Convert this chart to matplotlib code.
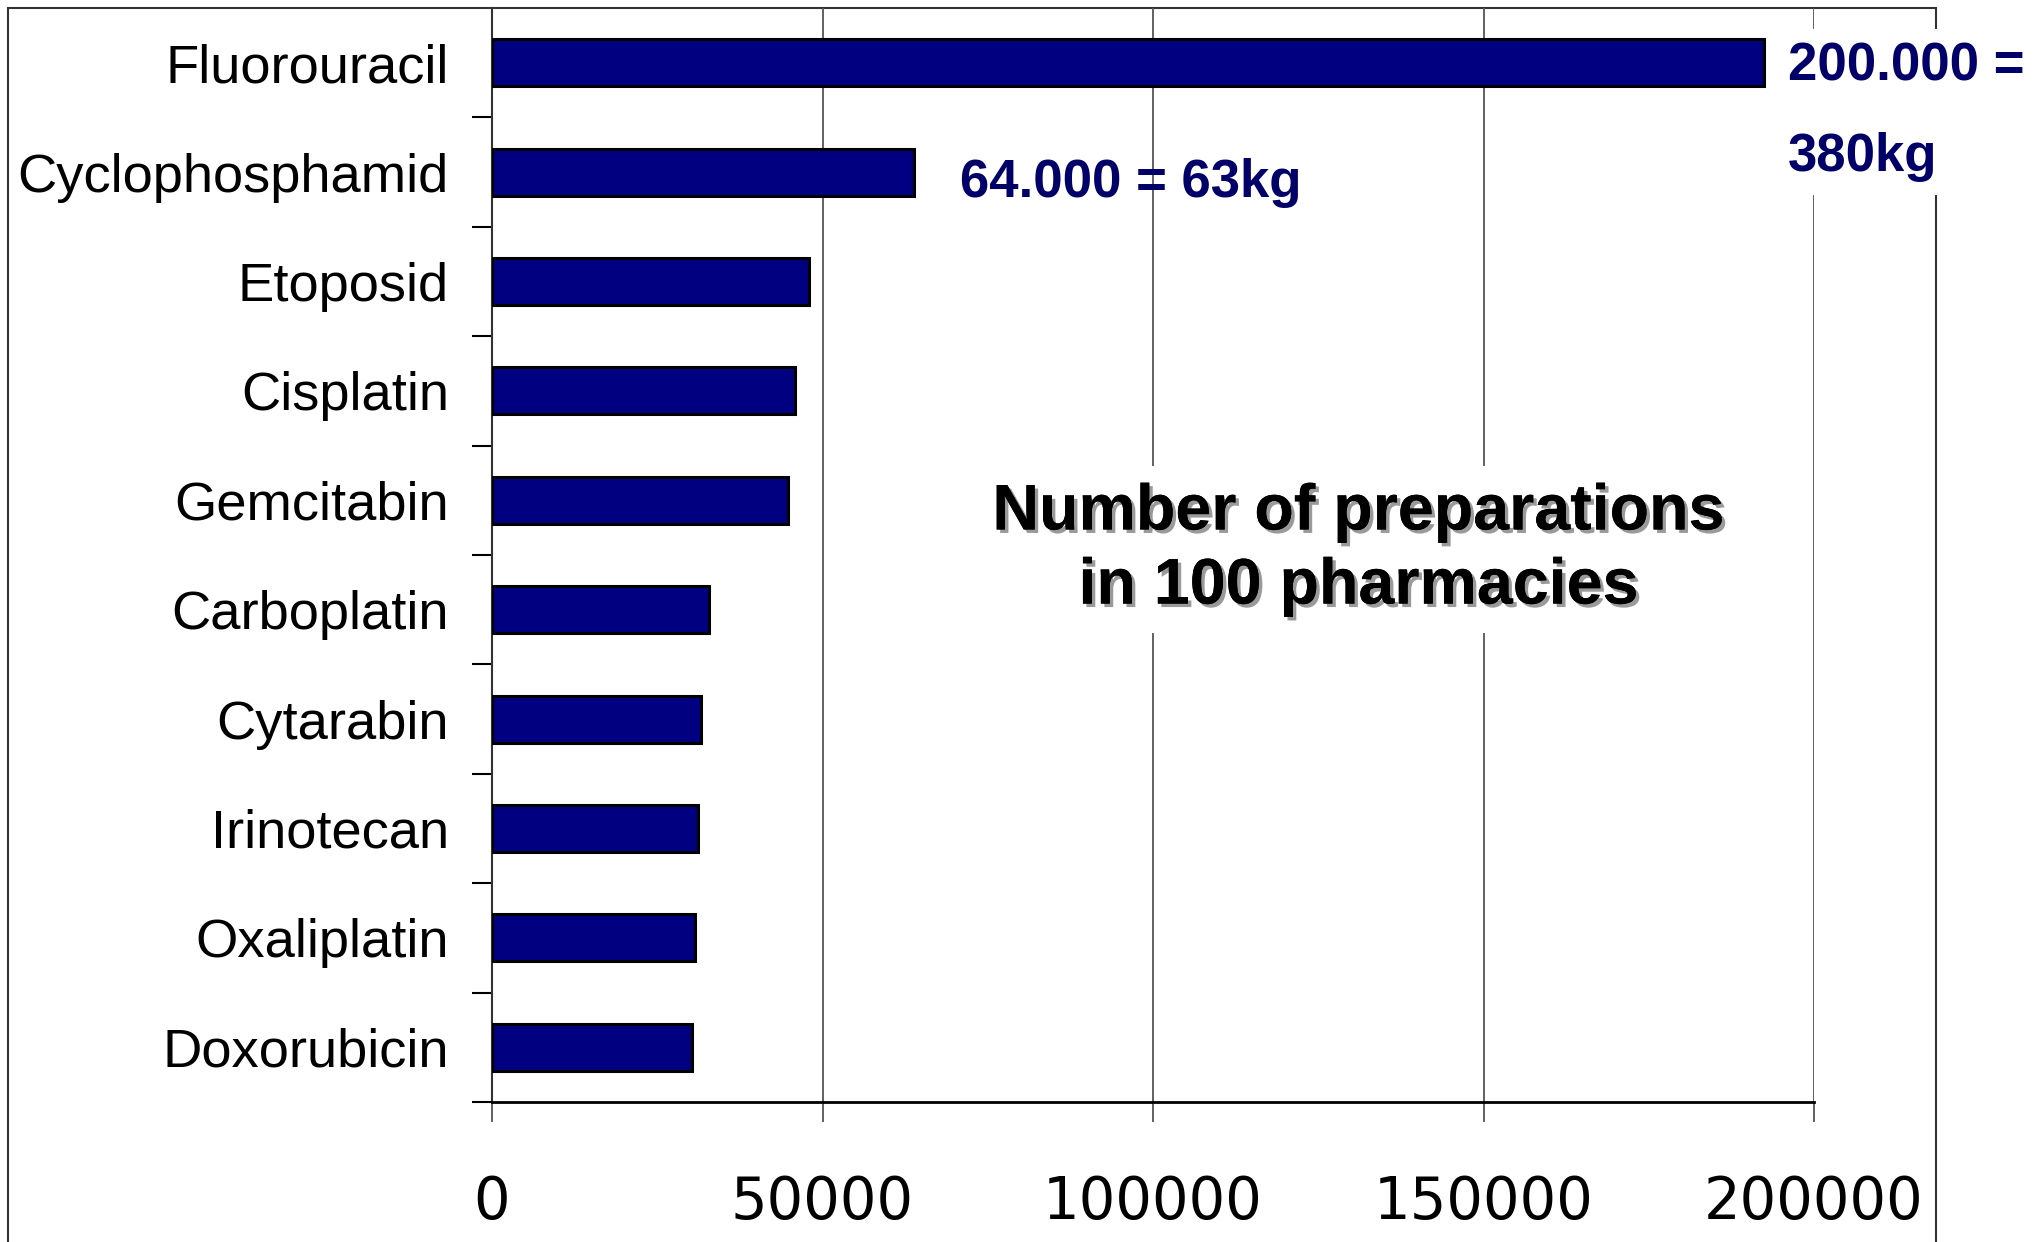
import matplotlib
matplotlib.use("Agg")
import matplotlib.pyplot as plt
import matplotlib.patheffects as pe
from matplotlib.patches import Rectangle

categories = ["Fluorouracil", "Cyclophosphamid", "Etoposid", "Cisplatin", "Gemcitabin",
              "Carboplatin", "Cytarabin", "Irinotecan", "Oxaliplatin", "Doxorubicin"]
values = [192500, 63900, 48000, 45800, 44800, 32900, 31600, 31100, 30700, 30300]
xticks = [0, 50000, 100000, 150000, 200000]
xticklabels = ["0", "50000", "100000", "150000", "200000"]
annot_top = "200.000 =\n380kg"
annot_second = "64.000 = 63kg"
title_text = "Number of preparations\nin 100 pharmacies"

W, H = 2042, 1242
fig = plt.figure(figsize=(W / 100, H / 100), dpi=100, facecolor="white")

ax_l, ax_r = 492 / W, 1814 / W
ax_t, ax_b = 1 - 8 / H, 1 - 1102 / H
ax = fig.add_axes([ax_l, ax_b, ax_r - ax_l, ax_t - ax_b])
ax.patch.set_visible(False)

# outer frame (extends below the image)
frame = Rectangle((8 / W, -0.2), (1936 - 8) / W, (1 - 8 / H) + 0.2, transform=fig.transFigure,
                  facecolor="none", edgecolor="#333333", linewidth=1.5, zorder=-5)
fig.patches.append(frame)

navy = "#000080"
ypos = list(range(len(categories)))
ax.barh(ypos, values, height=0.43, color=navy, edgecolor="black", linewidth=2.2, zorder=3)

ax.set_xlim(0, 200000)
ax.set_ylim(len(categories) - 0.5, -0.5)

# grid / x ticks
ax.set_xticks(xticks)
ax.set_xticklabels(xticklabels, fontfamily="DejaVu Sans", fontsize=41.5)
ax.grid(axis="x", color="#555555", linewidth=1.3, zorder=1)
ax.tick_params(axis="x", direction="out", length=14.5, width=1.3, color="#555555", pad=37)

# y ticks
ax.set_yticks(ypos)
ax.set_yticklabels(categories, fontfamily="Liberation Sans", fontsize=39.2)
ax.tick_params(axis="y", which="major", length=0, pad=31)
ax.set_yticks([i + 0.5 for i in range(len(categories))], minor=True)
ax.tick_params(axis="y", which="minor", direction="out", length=14.5, width=1.5, color="black")

for s in ["top", "right"]:
    ax.spines[s].set_visible(False)
ax.spines["left"].set_linewidth(1.5)
ax.spines["left"].set_color("#333333")
ax.spines["bottom"].set_linewidth(2)
ax.spines["bottom"].set_color("black")

txt_color = "#000068"
ax.text(70800, 1.1, annot_second, fontfamily="Liberation Sans", fontweight="bold",
        fontsize=38, color=txt_color, va="center", ha="left", zorder=5)

ax.text(196000, 0.45, annot_top, fontfamily="Liberation Sans", fontweight="bold",
        fontsize=38, color=txt_color, va="center", ha="left", linespacing=2.03,
        clip_on=False, zorder=10,
        bbox=dict(facecolor="white", edgecolor="none", pad=9))

t = ax.text(131100, 4.45, title_text, fontfamily="Liberation Sans", fontweight="bold",
            fontsize=46.5, color="black", va="center", ha="center", linespacing=1.3, zorder=6,
            bbox=dict(facecolor="white", edgecolor="none", pad=12))
t.set_path_effects([pe.withSimplePatchShadow(offset=(2.5, -2.5), shadow_rgbFace="#9a9a9a", alpha=1.0),
                    pe.Normal()])

fig.savefig("out.png", dpi=100, facecolor="white")
